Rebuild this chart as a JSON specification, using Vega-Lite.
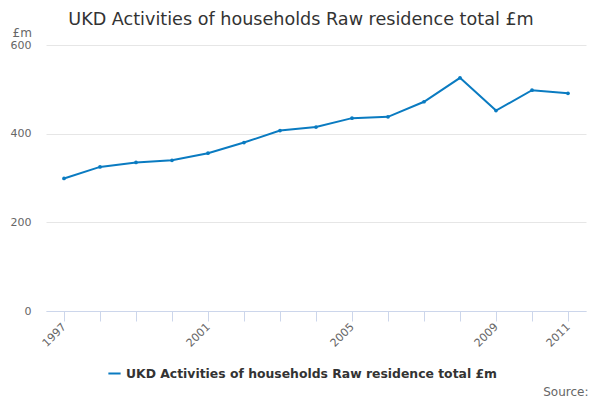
{
  "$schema": "https://vega.github.io/schema/vega-lite/v6.json",
  "width": 540,
  "height": 266,
  "autosize": {"type": "none"},
  "padding": {"left": 46, "top": 45, "right": 14, "bottom": 89},
  "background": "white",
  "view": {"stroke": null},
  "title": {
    "text": "UKD Activities of households Raw residence total £m",
    "font": "DejaVu Sans",
    "fontSize": 17.6,
    "fontWeight": "normal",
    "color": "#333333",
    "anchor": "middle",
    "frame": "group",
    "dx": -15,
    "offset": -3
  },
  "data": {
    "values": [
      {"year": "1997", "value": 299},
      {"year": "1998", "value": 325},
      {"year": "1999", "value": 335},
      {"year": "2000", "value": 340},
      {"year": "2001", "value": 356},
      {"year": "2002", "value": 380},
      {"year": "2003", "value": 407},
      {"year": "2004", "value": 415},
      {"year": "2005", "value": 435},
      {"year": "2006", "value": 438},
      {"year": "2007", "value": 472},
      {"year": "2008", "value": 526},
      {"year": "2009", "value": 452},
      {"year": "2010", "value": 498},
      {"year": "2011", "value": 491}
    ]
  },
  "mark": {"type": "line", "strokeWidth": 2, "point": {"size": 14, "filled": true}},
  "encoding": {
    "x": {
      "field": "year",
      "type": "ordinal",
      "scale": {"type": "point", "padding": 0.5},
      "axis": {
        "title": "Source:",
        "titleFont": "DejaVu Sans",
        "titleFontSize": 12,
        "titleFontWeight": "normal",
        "titleColor": "#666666",
        "titleAnchor": "end",
        "titleAlign": "right",
        "titleBaseline": "middle",
        "titleX": 542,
        "titleY": 80,
        "labelExpr": "indexof(['1997','2001','2005','2009','2011'], datum.value) >= 0 ? datum.value : ''",
        "labelAngle": -45,
        "labelAlign": "right",
        "labelBaseline": "middle",
        "labelFont": "DejaVu Sans",
        "labelFontSize": 11,
        "labelColor": "#666666",
        "labelPadding": 4,
        "domainColor": "#ccd6eb",
        "tickColor": "#ccd6eb",
        "tickSize": 10,
        "grid": false
      }
    },
    "y": {
      "field": "value",
      "type": "quantitative",
      "scale": {"domain": [0, 600], "nice": false},
      "axis": {
        "values": [0, 200, 400, 600],
        "title": "£m",
        "titleAngle": 0,
        "titleAlign": "left",
        "titleBaseline": "middle",
        "titleX": -34,
        "titleY": -13,
        "titleFont": "DejaVu Sans",
        "titleFontSize": 12,
        "titleFontWeight": "normal",
        "titleColor": "#666666",
        "labelFont": "DejaVu Sans",
        "labelFontSize": 11,
        "labelColor": "#666666",
        "labelPadding": 15,
        "tickSize": 0,
        "domain": false,
        "gridColor": "#e6e6e6"
      }
    },
    "color": {
      "datum": "UKD Activities of households Raw residence total £m",
      "scale": {"range": ["#0a7bc1"]},
      "legend": {
        "title": null,
        "orient": "none",
        "legendX": 61,
        "legendY": 321,
        "symbolType": "stroke",
        "symbolStrokeWidth": 2,
        "symbolSize": 150,
        "labelFont": "DejaVu Sans",
        "labelFontSize": 12.4,
        "labelFontWeight": "bold",
        "labelColor": "#333333",
        "labelLimit": 500
      }
    }
  }
}
